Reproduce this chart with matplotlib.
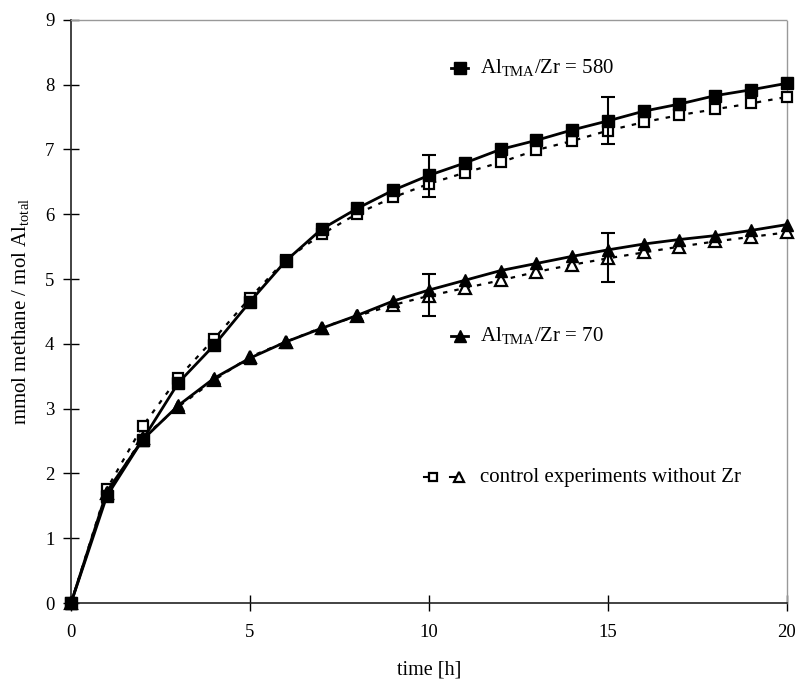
import matplotlib
matplotlib.use("Agg")
import matplotlib.pyplot as plt
import numpy as np

plt.rcParams["font.family"] = ["Liberation Serif", "DejaVu Serif"]
plt.rcParams["mathtext.fontset"] = "custom"
plt.rcParams["mathtext.rm"] = "Liberation Serif"
plt.rcParams["mathtext.it"] = "Liberation Serif:italic"

# time axis [h]
time_h = list(range(0, 21))

# Al_TMA/Zr = 580 and its control without Zr
zr580 = [0, 1.65, 2.52, 3.40, 3.98, 4.65, 5.28, 5.77, 6.09, 6.37, 6.60,
         6.79, 7.00, 7.14, 7.30, 7.44, 7.59, 7.70, 7.83, 7.92, 8.02]
ctrl580 = [0, 1.76, 2.73, 3.48, 4.08, 4.71, 5.30, 5.69, 6.01, 6.26, 6.47,
           6.64, 6.80, 6.99, 7.13, 7.29, 7.42, 7.53, 7.62, 7.71, 7.81]

# Al_TMA/Zr = 70 and its control without Zr
zr70 = [0, 1.72, 2.52, 3.05, 3.47, 3.78, 4.03, 4.24, 4.44, 4.66, 4.83,
        4.98, 5.13, 5.24, 5.35, 5.45, 5.54, 5.61, 5.67, 5.75, 5.84]
ctrl70 = [0, 1.70, 2.55, 3.03, 3.44, 3.80, 4.03, 4.25, 4.43, 4.60, 4.74,
          4.86, 4.98, 5.11, 5.22, 5.32, 5.41, 5.50, 5.58, 5.65, 5.72]

# error bars (lower, upper) at selected times
err_times = [10, 15]
err580_low = [6.27, 7.08]
err580_high = [6.92, 7.81]
err70_low = [4.43, 4.96]
err70_high = [5.08, 5.71]

fig = plt.figure(figsize=(7.98, 6.83), dpi=100)
ax = fig.add_axes([0.089, 0.117, 0.897, 0.854])

dot = (0, (2.0, 3.2))

ax.plot(time_h, ctrl580, color="black", lw=1.6, ls=dot, marker="s", ms=7,
        mfc="white", mec="black", mew=1.6, zorder=3, clip_on=False)
ax.plot(time_h, ctrl70, color="black", lw=1.6, ls=dot, marker="^", ms=8,
        mfc="white", mec="black", mew=1.6, zorder=3, clip_on=False)
ax.plot(time_h, zr70, color="black", lw=2.0, marker="^", ms=9,
        mfc="black", mec="black", zorder=4, clip_on=False)
ax.plot(time_h, zr580, color="black", lw=2.0, marker="s", ms=8,
        mfc="black", mec="black", zorder=4, clip_on=False)

for series, lows, highs in ((zr580, err580_low, err580_high),
                            (zr70, err70_low, err70_high)):
    yv = [series[t] for t in err_times]
    lower = [y - lo for y, lo in zip(yv, lows)]
    upper = [hi - y for y, hi in zip(yv, highs)]
    ax.errorbar(err_times, yv, yerr=[lower, upper], fmt="none",
                ecolor="black", elinewidth=1.5, capsize=5, capthick=1.5,
                zorder=5)

ax.set_xlim(0, 20)
ax.set_ylim(0, 9)
ax.set_xticks([0, 5, 10, 15, 20])
ax.set_yticks(range(0, 10))
ax.tick_params(direction="inout", length=12, width=1, labelsize=13.5,
               colors="black")
ax.tick_params(axis="y", pad=6)
ax.tick_params(axis="x", pad=9)

for side in ("left", "bottom"):
    ax.spines[side].set_linewidth(1.2)
    ax.spines[side].set_color("#222222")
for side in ("top", "right"):
    ax.spines[side].set_linewidth(1.0)
    ax.spines[side].set_color("#999999")
    ax.spines[side].set_linestyle((0, (1, 1)))

ax.set_xlabel("time [h]", fontsize=14.5, labelpad=14)
ax.set_ylabel(r"mmol methane / mol Al$_{\mathrm{total}}$", fontsize=15,
              labelpad=10)

# series annotations inside the plot area
tr = ax.transAxes
ax.plot([0.531, 0.555], [0.918, 0.918], color="black", lw=2, transform=tr,
        clip_on=False)
ax.plot([0.543], [0.918], marker="s", ms=8, color="black", transform=tr)
ax.text(0.571, 0.918, r"Al$_{\mathrm{TMA}}$/Zr = 580", transform=tr,
        fontsize=15, va="center", ha="left")

ax.plot([0.531, 0.555], [0.458, 0.458], color="black", lw=2, transform=tr)
ax.plot([0.543], [0.458], marker="^", ms=9, color="black", transform=tr)
ax.text(0.571, 0.458, r"Al$_{\mathrm{TMA}}$/Zr = 70", transform=tr,
        fontsize=15, va="center", ha="left")

ax.plot([0.493, 0.505], [0.216, 0.216], color="black", lw=1.5, transform=tr)
ax.plot([0.505], [0.216], marker="s", ms=6, mfc="white", mec="black",
        mew=1.6, transform=tr)
ax.plot([0.530, 0.542], [0.216, 0.216], color="black", lw=1.5, transform=tr)
ax.plot([0.542], [0.216], marker="^", ms=7, mfc="white", mec="black",
        mew=1.6, transform=tr)
ax.text(0.571, 0.216, "control experiments without Zr", transform=tr,
        fontsize=15, va="center", ha="left")

fig.savefig("out.png", dpi=100)
